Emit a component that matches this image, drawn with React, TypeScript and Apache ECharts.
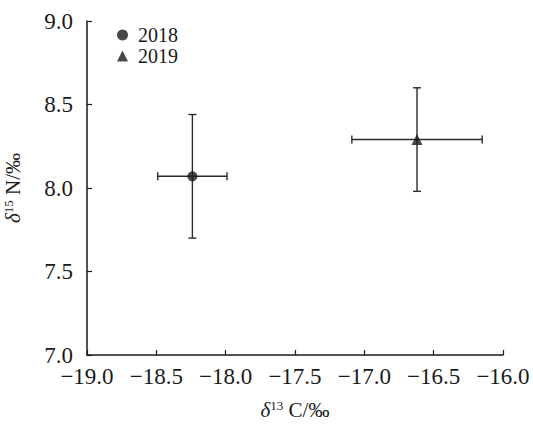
import React, { useEffect, useRef } from "react";
import * as echarts from "echarts";

const years = ["2018", "2019"];
const d13C = [-18.24, -16.62];
const d13CSd = [0.25, 0.47];
const d15N = [8.07, 8.29];
const d15NSd = [0.37, 0.31];
const symbols = ["circle", "triangle"];

const FONT = "Liberation Serif";
const INK = "#1a1a1a";

const fmt = (v: number) => v.toFixed(1).replace("-", "\u2212");

export default function App() {
  const ref = useRef<HTMLDivElement>(null);
  useEffect(() => {
    if (!ref.current) return;
    const chart = echarts.init(ref.current, undefined, { renderer: "svg" });
    const errData = years.map((_, i) => [d13C[i], d15N[i], d13CSd[i], d15NSd[i]]);
    const nameRich = {
      d: { fontFamily: FONT, fontStyle: "italic", fontSize: 21, color: INK },
      s: { fontFamily: FONT, fontSize: 13, color: INK, verticalAlign: "top", padding: [0, 0, 6, 0] },
      n: { fontFamily: FONT, fontSize: 21, color: INK },
    };
    chart.setOption({
      animation: false,
      grid: { left: 87, right: 30, top: 21, bottom: 75, outerBoundsMode: "none", containLabel: false },
      legend: {
        orient: "vertical",
        left: 117,
        top: 25,
        padding: 0,
        itemWidth: 11,
        itemHeight: 11,
        itemGap: 1,
        data: years,
        textStyle: { fontFamily: FONT, fontSize: 20, lineHeight: 20, color: INK, padding: [0, 0, 0, 5] },
      },
      xAxis: {
        type: "value",
        min: -19,
        max: -16,
        interval: 0.5,
        name: "{d|δ}{s|13}{n| C/‰}",
        nameLocation: "middle",
        nameGap: 44,
        nameTextStyle: { rich: nameRich },
        axisLine: { lineStyle: { color: INK, width: 1.5 } },
        axisTick: { inside: true, length: 5, lineStyle: { color: INK, width: 1.2 } },
        splitLine: { show: false },
        axisLabel: { formatter: fmt, fontFamily: FONT, fontSize: 23, color: INK, margin: 10 },
      },
      yAxis: {
        type: "value",
        min: 7,
        max: 9,
        interval: 0.5,
        name: "{d|δ}{s|15}{n| N/‰}",
        nameLocation: "middle",
        nameGap: 64,
        nameTextStyle: { rich: nameRich },
        axisLine: { show: true, lineStyle: { color: INK, width: 1.5 } },
        axisTick: { show: true, inside: true, length: 5, lineStyle: { color: INK, width: 1.2 } },
        splitLine: { show: false },
        axisLabel: { formatter: fmt, fontFamily: FONT, fontSize: 23, color: INK, margin: 14 },
      },
      series: [
        {
          type: "custom",
          name: "err",
          data: errData,
          silent: true,
          z: 1,
          renderItem: (params: any, api: any) => {
            const x = api.value(0);
            const y = api.value(1);
            const xs = api.value(2);
            const ys = api.value(3);
            const l = api.coord([x - xs, y]);
            const r = api.coord([x + xs, y]);
            const t = api.coord([x, y + ys]);
            const b = api.coord([x, y - ys]);
            const c = 4;
            const style = { stroke: "#2a2a2a", lineWidth: 1.4 };
            return {
              type: "group",
              children: [
                { type: "line", shape: { x1: l[0], y1: l[1], x2: r[0], y2: r[1] }, style },
                { type: "line", shape: { x1: t[0], y1: t[1], x2: b[0], y2: b[1] }, style },
                { type: "line", shape: { x1: l[0], y1: l[1] - c, x2: l[0], y2: l[1] + c }, style },
                { type: "line", shape: { x1: r[0], y1: r[1] - c, x2: r[0], y2: r[1] + c }, style },
                { type: "line", shape: { x1: t[0] - c, y1: t[1], x2: t[0] + c, y2: t[1] }, style },
                { type: "line", shape: { x1: b[0] - c, y1: b[1], x2: b[0] + c, y2: b[1] }, style },
              ],
            };
          },
        },
        ...years.map((yr, i) => ({
          type: "scatter",
          name: yr,
          symbol: symbols[i],
          symbolSize: i === 0 ? 10 : 11,
          z: 3,
          itemStyle: { color: INK },
          data: [[d13C[i], d15N[i]]],
        })),
      ],
    });
    return () => chart.dispose();
  }, []);
  return <div ref={ref} style={{ width: 533, height: 430, position: "absolute", left: 0, top: 0 }} />;
}
